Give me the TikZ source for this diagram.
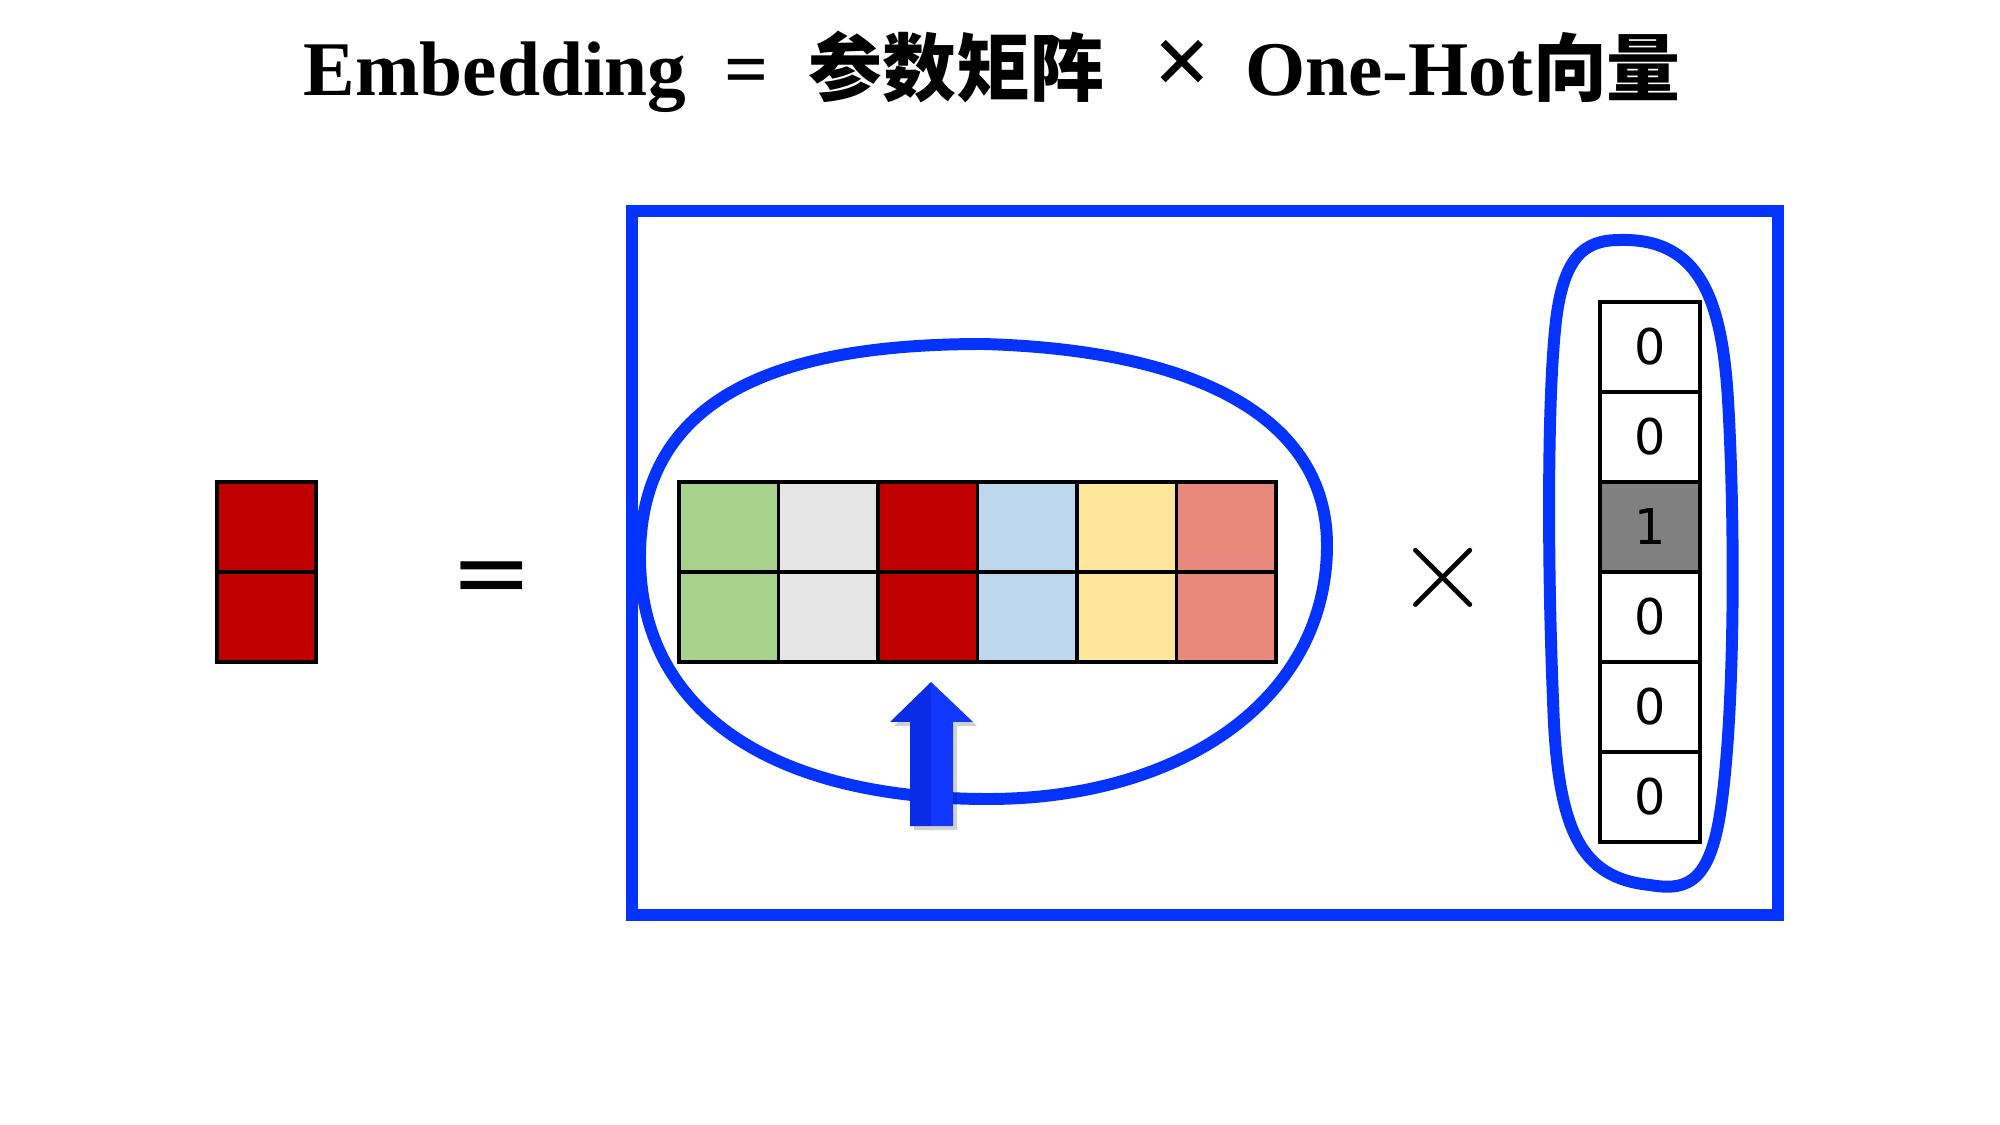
\documentclass[tikz,border=0pt]{standalone}
\usepackage{fontspec}
\setmainfont{Liberation Serif}
\newfontfamily\cjkfont{Noto Sans CJK SC}
\newfontfamily\digitfont{DejaVu Sans}
\usetikzlibrary{positioning}

\definecolor{embblue}{HTML}{0433FF}
\definecolor{embgreen}{HTML}{A9D18E}
\definecolor{embgray}{HTML}{E6E6E6}
\definecolor{embred}{HTML}{C00000}
\definecolor{embsky}{HTML}{BDD7EE}
\definecolor{embyellow}{HTML}{FFE699}
\definecolor{embsalmon}{HTML}{E9887D}
\definecolor{embdim}{HTML}{808080}
\definecolor{arrowdark}{HTML}{0A2CE6}
\definecolor{arrowlight}{HTML}{1238FF}

\begin{document}
\begin{tikzpicture}[x=0.01cm, y=-0.01cm,
  cell/.style={draw=black, line width=1.1pt, minimum width=0.995cm,
    minimum height=0.9cm, inner sep=0pt, outer sep=0pt},
  ring/.style={draw=embblue, line width=3.4pt}]
\useasboundingbox (0,0) rectangle (2000,1125);

% title
\node[anchor=base west, inner sep=0pt, font=\bfseries\fontsize{22pt}{26pt}\selectfont] (title) at (303,96)
  {Embedding\hspace{0.38cm}=\hspace{0.4cm}{\cjkfont\fontsize{21pt}{26pt}\selectfont 参数矩阵}\hspace{0.5cm}{\fontsize{29pt}{26pt}\selectfont ×}\hspace{0.33cm}One-Hot{\cjkfont\fontsize{21pt}{26pt}\selectfont 向量}};

% outer frame
\node[draw=embblue, line width=3.4pt, minimum width=11.46cm, minimum height=7.04cm,
  inner sep=0pt] (frame) at (1205,563) {};

% embedding column
\node[cell, fill=embred] (r1) at (266.5,527) {};
\node[cell, fill=embred, below=0pt of r1] (r2) {};
\node[inner sep=0pt, font=\digitfont\fontsize{28pt}{30pt}\selectfont] (eq) at (492,584) {=};

% parameter matrix
\draw[ring] (983,344) .. controls (1200,350) and (1327,420) .. (1327,545)
  .. controls (1327,700) and (1180,799) .. (988,799)
  .. controls (770,799) and (640,710) .. (640,557)
  .. controls (640,390) and (790,344) .. cycle;
\foreach \c [count=\i] in {embgreen,embgray,embred,embsky,embyellow,embsalmon} {
  \node[cell, fill=\c] (p1\i) at ({679+99.5*(\i-0.5)},527) {};
  \node[cell, fill=\c, below=0pt of p1\i] (p2\i) {};
}

% arrow
\fill[black, opacity=0.18] (914,830) -- (914,726) -- (894,726) -- (935,686) -- (977,726)
  -- (957,726) -- (957,830) -- cycle;
\fill[arrowdark] (910,826) -- (910,722) -- (890,722) -- (931,682) -- (931,826) -- cycle;
\fill[arrowlight] (931,682) -- (973,722) -- (953,722) -- (953,826) -- (931,826) -- cycle;

\node[inner sep=0pt, scale=1.4, font=\fontsize{24pt}{26pt}\selectfont] (times) at (1443,578) {$\times$};

% one-hot vector
\draw[ring] (1620,240) .. controls (1700,238) and (1722,300) .. (1728,400)
  .. controls (1735,520) and (1735,700) .. (1722,800)
  .. controls (1712,880) and (1690,892) .. (1650,885)
  .. controls (1580,878) and (1557,830) .. (1553,700)
  .. controls (1547,550) and (1548,400) .. (1555,330)
  .. controls (1562,255) and (1585,240) .. cycle;
\foreach \v/\f [count=\i] in {0/white,0/white,1/embdim,0/white,0/white,0/white}
  \node[cell, line width=0.9pt, minimum width=1cm, fill=\f,
    font=\digitfont\fontsize{14pt}{16pt}\selectfont] (h\i) at (1650,{302+90*(\i-0.5)}) {\v};
\end{tikzpicture}
\end{document}
